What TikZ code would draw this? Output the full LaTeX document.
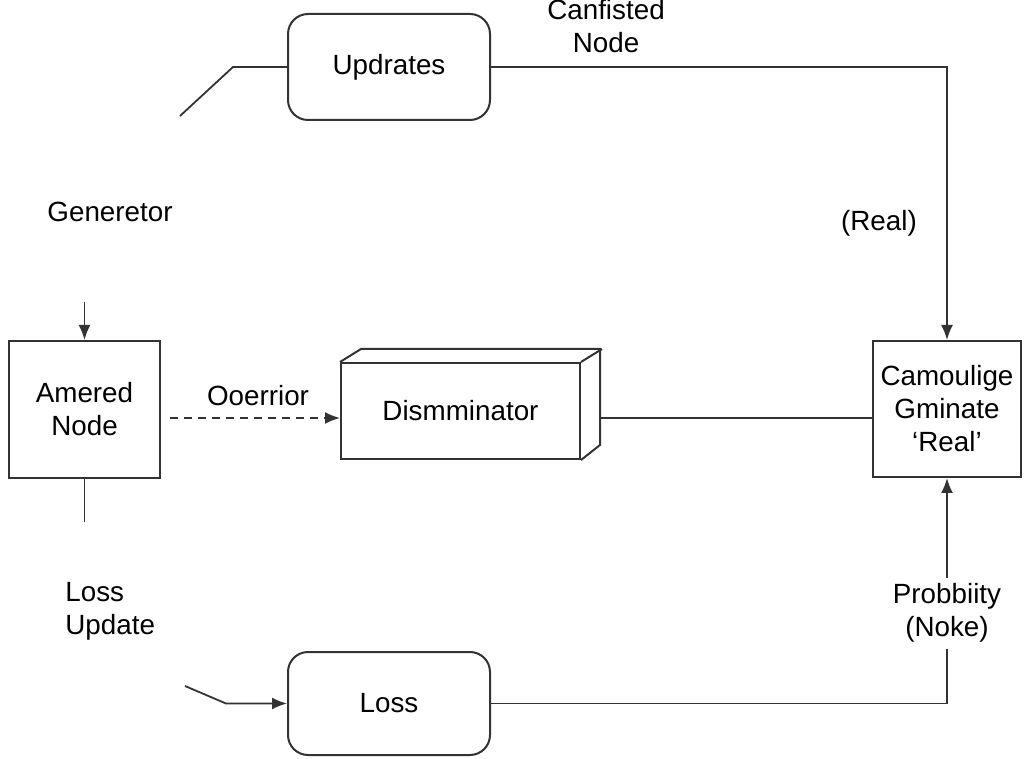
\documentclass[tikz,border=0pt]{standalone}
\usepackage{fontspec}
\setmainfont{Liberation Sans}
\usetikzlibrary{arrows.meta,positioning}

\tikzset{
  blk/.style={draw=black!80, line width=1pt, rectangle, inner sep=0pt, align=center},
  rblk/.style={blk, rounded corners=10pt},
  lbl/.style={inner sep=1pt, align=center},
  conn/.style={draw=black!80, line width=0.9pt},
  tip/.style={-{Latex[length=7.5pt,width=6pt]}}
}

\begin{document}
\begin{tikzpicture}[x=0.5pt, y=-0.5pt]
  \useasboundingbox (0,0) rectangle (1024,759);
  \fontsize{13.9}{16.5}\selectfont

  % boxes
  \node[rblk, minimum width=101pt, minimum height=53pt] (upd) at (389,67) {Updrates};
  \node[rblk, minimum width=101pt, minimum height=51.5pt] (loss) at (389,703.5) {Loss};
  \node[blk, minimum width=75.5pt, minimum height=68.5pt] (amer) at (84.5,409.5) {Amered\\Node};
  \node[blk, minimum width=74pt, minimum height=68pt] (cam) at (947,409) {Camoulige\\Gminate\\`Real'};
  \node[blk, minimum width=119.5pt, minimum height=48pt] (disc) at (460.5,411) {Dismminator};
  % depth of the cube
  \draw[conn, line width=1pt] (disc.north west) -- ++(21,-13) -- ++(239,0) -- ++(0,96) -- (disc.south east);
  \draw[conn, line width=1pt] (disc.north east) -- ++(21,-13);

  % free labels
  \node[lbl] (canf) at (606,26) {Canfisted\\Node};
  \node[lbl] (real) at (879,223) {(Real)};
  \node[lbl] (gen) at (110,212) {Generetor};
  \node[lbl, anchor=west, align=left] (lossup) at (63,611) {Loss\\Update};
  \node[lbl] (ooer) at (258,396) {Ooerrior};

  % loose ends
  \coordinate (updin) at (180,116);
  \coordinate (amerin) at (84.5,302);
  \coordinate (amerout) at (84.5,522);
  \coordinate (ooin) at (170,418);
  \coordinate (discout) at (601,418);
  \coordinate (lossin) at (185,686);

  % connectors
  \draw[conn] (updin) -- (233,67) -- (upd.west);
  \draw[conn, tip] (upd.east) -| (cam.north);
  \draw[conn, tip] (amerin) -- (amer.north);
  \draw[conn] (amer.south) -- (amerout);
  \draw[conn, dash pattern=on 4pt off 3pt, tip] (ooin) -- (ooin -| disc.west);
  \draw[conn] (discout) -- (discout -| cam.west);
  \draw[conn, tip] (lossin) -- (226,703.5) -- (loss.west);
  \draw[conn, tip] (loss.east) -| (cam.south)
    node[pos=0.7, fill=white, lbl, inner sep=3pt] (prob) {Probbiity\\(Noke)};
\end{tikzpicture}
\end{document}
